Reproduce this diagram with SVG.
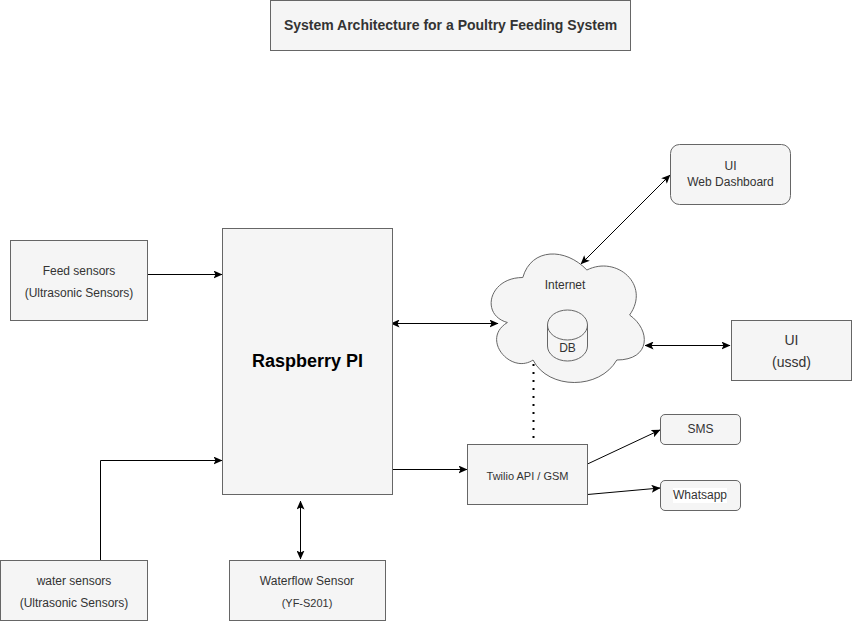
<svg xmlns="http://www.w3.org/2000/svg" width="852" height="621" viewBox="0 0 852 621">
<defs>
<marker id="arrow" viewBox="0 0 9 8" refX="8.500" refY="4" markerWidth="9" markerHeight="8" markerUnits="userSpaceOnUse" orient="auto-start-reverse"><path d="M0 0 L9 4 L0 8 L2 4 Z" fill="#000"/></marker>
</defs>
<style>
rect,path.s{fill:#f5f5f5;stroke:#666;stroke-width:1}
text{font-family:"Liberation Sans",Arial,Helvetica,sans-serif;fill:#333;font-size:12px;text-anchor:middle}
.c{fill:none;stroke:#000;stroke-width:1;marker-end:url(#arrow)}
.b{marker-start:url(#arrow)}
</style>
<rect width="852" height="621" style="fill:#fff;stroke:none"/>
<g id="title"><rect x="270.500" y="0.500" width="360" height="50"/><text x="450.500" y="30" style="font-weight:bold;font-size:14px">System Architecture for a Poultry Feeding System</text></g>
<g id="connectors">
<path class="c" d="M147.500 274.500H222"/>
<path class="c" d="M100.500 560V460.500H222"/>
<path class="c b" d="M391 323.500H498"/>
<path class="c" d="M392.500 469.500H467"/>
<path class="c b" d="M300.500 501V559"/>
<path class="c b" d="M581 264L670 175"/>
<path class="c b" d="M645 345.500H730"/>
<path d="M533.500 364V444" style="fill:none;stroke:#000;stroke-width:2;stroke-dasharray:2 6"/>
<path class="c" d="M587.500 464L660 430"/>
<path class="c" d="M587.500 494.500L660 488"/>
</g>
<g id="feed"><rect x="10.500" y="240.500" width="137" height="80"/><text x="79" y="275">Feed sensors</text><text x="79" y="297">(Ultrasonic Sensors)</text></g>
<g id="raspberry"><rect x="222.500" y="228.500" width="170" height="266"/><text x="307.500" y="367" style="font-weight:bold;font-size:18px;fill:#000">Raspberry PI</text></g>
<g id="water"><rect x="0.500" y="560.500" width="147" height="60"/><text x="74" y="585">water sensors</text><text x="74" y="607">(Ultrasonic Sensors)</text></g>
<g id="waterflow"><rect x="229.500" y="560.500" width="156" height="60"/><text x="307" y="585">Waterflow Sensor</text><text x="307" y="607" style="font-size:11px">(YF-S201)</text></g>
<g id="internet"><path class="s" d="M522.800 277.500C488.600 277.500 480 315 507.400 322.500C480 339 510.800 375 533 360C548.400 390 599.700 390 616.800 360C651 360 651 330 629.600 315C651 285 616.800 255 586.900 270C565.500 247.500 531.300 247.500 522.800 277.500Z"/><text x="565" y="289">Internet</text>
<path class="s" d="M547.500 325A20 15 0 0 1 587.500 325V346A20 15 0 0 1 547.500 346Z"/><path d="M547.500 325A20 15 0 0 0 587.500 325" style="fill:none;stroke:#666"/><text x="567.500" y="352">DB</text></g>
<g id="twilio"><rect x="467.500" y="444.500" width="120" height="60"/><text x="527.500" y="480" style="font-size:11px">Twilio API / GSM</text></g>
<g id="web"><rect x="670.500" y="144.500" width="120" height="60" rx="9"/><text x="730.500" y="170">UI</text><text x="730.500" y="186">Web Dashboard</text></g>
<g id="ussd"><rect x="731.500" y="320.500" width="120" height="60"/><text x="791.500" y="345" style="font-size:14px">UI</text><text x="791.500" y="367" style="font-size:14px">(ussd)</text></g>
<g id="sms"><rect x="660.500" y="414.500" width="80" height="30" rx="4.500"/><text x="700.500" y="433">SMS</text></g>
<g id="whatsapp"><rect x="660.500" y="480.500" width="80" height="30" rx="4.500"/><rect x="673" y="488" width="54" height="15" style="fill:#fff;stroke:none"/><text x="700" y="499">Whatsapp</text></g>
</svg>
